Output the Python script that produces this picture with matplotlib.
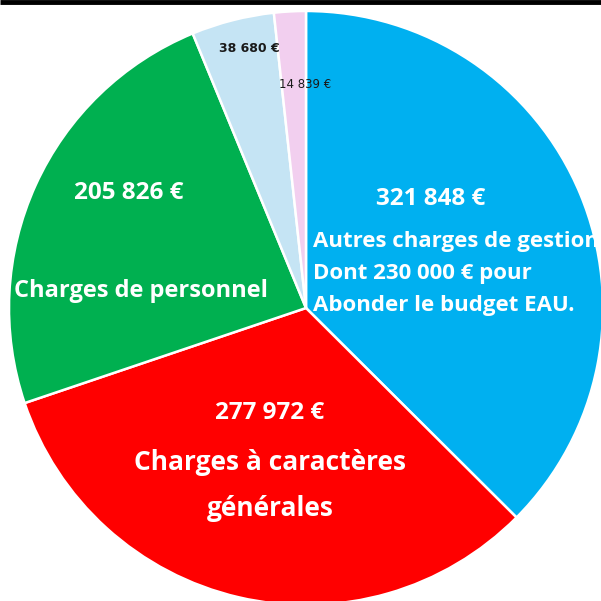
import matplotlib
matplotlib.use('Agg')
import matplotlib.pyplot as plt

# budget values (EUR)
labels = ['Autres charges de gestion', 'Charges à caractères générales',
          'Charges de personnel', 'Autres 1', 'Autres 2']
values = [321848, 277972, 205826, 38680, 14839]
colors = ['#00B0F0', '#FF0000', '#00B050', '#C5E4F4', '#F2CFEF']

fig = plt.figure(figsize=(6.01, 6.01), dpi=100)
ax = fig.add_axes([0, 0, 1, 1])

cx, cy, r = 306, 308, 297
wedges, _ = ax.pie(values, colors=colors, startangle=90, counterclock=False,
                   center=(cx, -cy), radius=r,
                   wedgeprops=dict(edgecolor='white', linewidth=1.8))
ax.set_xlim(0, 601)
ax.set_ylim(-601, 0)
ax.set_aspect('equal')
ax.axis('off')

# black line on top
ax.plot([0, 601], [-1.5, -1.5], color='black', lw=3.5, solid_capstyle='butt')

big = dict(color='white', fontweight='bold', family='Open Sans')
ax.text(431, -199, '321 848 €', ha='center', va='center', fontsize=17.5, **big)
ax.text(313, -241, 'Autres charges de gestion', ha='left', va='center', fontsize=16, **big)
ax.text(313, -273, 'Dont 230 000 € pour', ha='left', va='center', fontsize=16, **big)
ax.text(313, -306, 'Abonder le budget EAU.', ha='left', va='center', fontsize=16, **big)

ax.text(129, -193, '205 826 €', ha='center', va='center', fontsize=17.5, **big)
ax.text(141, -291, 'Charges de personnel', ha='center', va='center', fontsize=17, **big)

ax.text(270, -413, '277 972 €', ha='center', va='center', fontsize=17.5, **big)
ax.text(270, -463, 'Charges à caractères', ha='center', va='center', fontsize=19, **big)
ax.text(270, -508, 'générales', ha='center', va='center', fontsize=19, **big)

ax.text(249, -48, '38 680 €', ha='center', va='center', fontsize=9,
        fontweight='bold', color='#1a1a1a', family=['Liberation Sans Narrow', 'DejaVu Sans'])
ax.text(305, -85, '14 839 €', ha='center', va='center', fontsize=8.5,
        color='#1a1a1a', family=['Liberation Sans Narrow', 'DejaVu Sans'])

fig.savefig('out.png', dpi=100)
